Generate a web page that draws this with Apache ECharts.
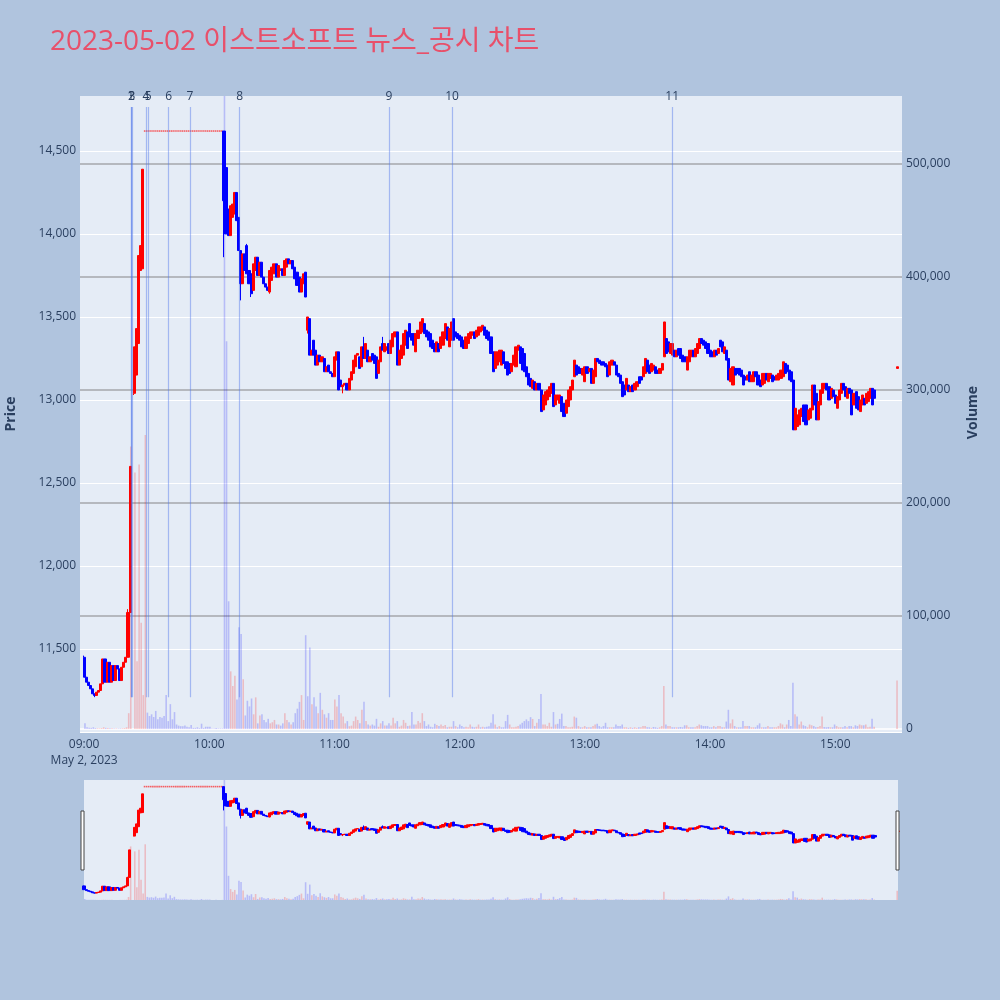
<!DOCTYPE html>
<html><head><meta charset="utf-8">
<script src="https://cdn.jsdelivr.net/npm/echarts@6/dist/echarts.min.js"></script>
<style>html,body{margin:0;padding:0;background:#b0c4de;}#c{width:1000px;height:1000px;}</style>
</head><body><div id="c"></div>
<script>
// ---- data (minute index from 09:00) ----
const opens = [
11450,11330,11300,11280,11260,11230,11220,11240,11250,11290,
11440,11300,11420,11300,11400,11310,11400,11380,11310,11390,
11420,11450,11720,null,13040,13150,13340,13780,13790,14620,
14620,14620,14620,14620,14620,14620,14620,14620,14620,14620,
14620,14620,14620,14620,14620,14620,14620,14620,14620,14620,
14620,14620,14620,14620,14620,14620,14620,14620,14620,14620,
14620,14620,14620,14620,14620,14620,14620,14620,14400,14150,
13990,14100,14120,14250,14100,13900,13700,13880,13930,13780,
13760,13660,13780,13860,13750,13830,13740,13700,13680,13650,
13720,13760,13820,13740,13780,13790,13750,13800,13850,13820,
13840,13800,13770,13740,13650,13700,13770,13420,13490,13270,
13360,13300,13210,13270,13230,13250,13170,13210,13170,13160,
13140,13240,13290,13120,13080,13090,13100,13060,13120,13160,
13200,13270,13260,13200,13320,13250,13300,13230,13280,13270,
13260,13160,13230,13340,13290,13300,13340,13280,13320,13380,
13410,13210,13250,13270,13330,13410,13460,13400,13400,13290,
13370,13400,13410,13460,13420,13410,13400,13360,13340,13290,
13340,13310,13330,13370,13440,13320,13360,13490,13410,13400,
13390,13380,13360,13310,13340,13370,13390,13410,13380,13390,
13410,13420,13440,13420,13410,13380,13290,13190,13210,13230,
13210,13290,13230,13230,13220,13170,13210,13200,13300,13320,
13310,13280,13200,13160,13130,13070,13110,13060,13100,13060,
12940,12970,13000,13020,13040,13100,12970,13000,12980,13020,
12980,12920,12960,13000,13060,13140,13210,13200,13190,13150,
13110,13200,13170,13190,13100,13140,13250,13240,13230,13230,
13220,13210,13150,13210,13230,13210,13160,13150,13110,13090,
13060,13090,13050,13090,13060,13080,13140,13140,13140,13160,
13240,13210,13170,13180,13200,13180,13160,13180,13260,13370,
13350,13280,13270,13300,13260,13310,13310,13270,13260,13180,
13230,13260,13300,13260,13280,13310,13370,13360,13350,13340,
13300,13290,13260,13300,13280,13360,13350,13280,13300,13250,
13110,13090,13190,13190,13190,13180,13150,13140,13120,13170,
13110,13110,13170,13150,13120,13090,13100,13160,13110,13130,
13150,13140,13120,13120,13130,13140,13220,13210,13180,13170,
13120,12820,12840,12850,12900,12970,12970,12880,12890,12940,
13090,13040,12880,12970,13040,13070,13100,13080,13010,13060,
13030,12950,13000,13040,13100,13080,13010,13070,13060,12970,
13050,13020,12930,12970,13010,12980,12990,13010,13070,13060
];
const closes = [
11330,11300,11280,11260,11230,11220,11240,11250,11290,11440,
11300,11420,11300,11400,11310,11400,11380,11310,11390,11420,
11450,11720,12600,null,13320,13430,13870,13930,14390,14620,
14620,14620,14620,14620,14620,14620,14620,14620,14620,14620,
14620,14620,14620,14620,14620,14620,14620,14620,14620,14620,
14620,14620,14620,14620,14620,14620,14620,14620,14620,14620,
14620,14620,14620,14620,14620,14620,14620,14200,14000,13990,
14170,14180,14250,14080,13900,13700,13880,13780,13760,13700,
13640,13820,13860,13750,13830,13740,13700,13680,13660,13780,
13800,13820,13740,13810,13790,13750,13840,13850,13820,13840,
13790,13730,13690,13650,13730,13760,13620,13500,13270,13300,
13270,13210,13270,13230,13260,13170,13200,13170,13160,13140,
13260,13290,13060,13080,13090,13100,13060,13130,13170,13240,
13270,13280,13190,13320,13250,13340,13230,13260,13240,13220,
13130,13240,13320,13300,13340,13320,13280,13360,13400,13410,
13210,13300,13330,13400,13420,13310,13380,13360,13330,13400,
13420,13470,13490,13400,13380,13360,13320,13310,13290,13350,
13290,13380,13410,13460,13360,13430,13470,13360,13380,13370,
13360,13320,13310,13380,13400,13410,13410,13370,13420,13440,
13440,13450,13390,13370,13360,13280,13170,13290,13290,13300,
13300,13220,13190,13150,13160,13220,13270,13320,13330,13220,
13180,13170,13140,13090,13080,13120,13060,13100,13060,12930,
13030,13050,13060,13080,13100,12960,13030,13030,13030,12930,
12900,13000,13060,13080,13120,13240,13150,13160,13160,13190,
13200,13160,13190,13100,13180,13250,13230,13220,13210,13210,
13200,13140,13230,13240,13210,13150,13140,13100,13020,13030,
13130,13050,13080,13050,13100,13110,13100,13120,13200,13250,
13170,13160,13220,13210,13160,13160,13190,13220,13470,13280,
13290,13340,13340,13260,13300,13270,13250,13230,13230,13260,
13300,13300,13260,13310,13340,13370,13340,13330,13310,13280,
13260,13260,13300,13270,13310,13320,13290,13320,13240,13120,
13190,13200,13150,13160,13150,13140,13090,13120,13150,13110,
13150,13170,13140,13090,13080,13160,13160,13120,13160,13160,
13110,13120,13150,13160,13180,13230,13160,13170,13120,13110,
12820,12950,12910,12940,12950,12870,12850,12940,12950,13090,
12970,12880,12990,13060,13100,13100,13060,13000,13070,13020,
12980,13020,13060,13100,13060,13020,13070,13040,12910,13040,
12950,12940,13000,13030,12970,13040,13050,13070,12970,13010
];
const volumes = [
5000,1500,1200,1000,1500,800,600,500,800,1500,
1000,800,700,600,500,500,400,500,600,800,
1500,14000,250000,null,227000,60000,234000,94000,30000,260000,
14500,11500,13000,10600,16000,8600,10600,10000,11500,30000,
7000,22000,8600,15000,4000,3000,2500,2500,3000,2000,
1500,3500,1000,1000,1500,800,4700,1000,2000,2000,
2000,500,500,800,500,500,500,600000,343000,113000,
51000,38000,47000,26000,90000,84000,44000,12000,25000,20000,
27000,13000,28000,5000,12000,13000,8000,6000,9000,5000,
6000,8000,4000,4000,3000,5000,14000,8000,6000,4000,
6000,14000,18000,24000,30000,8000,83000,29000,72000,22000,
28000,20000,14000,32000,17000,13000,10000,14000,8000,8000,
26000,20000,30000,14000,11000,5000,7000,2500,3000,7000,
11000,8000,5000,17000,24000,7000,4000,3000,4000,3000,
9000,2000,5000,7000,3000,3000,5000,3000,10000,5000,
7000,2000,3000,8000,5500,2600,3000,15000,4000,4000,
7000,5500,14000,7000,2600,4000,2000,1500,4600,3500,
2600,4000,2600,3500,1500,2000,2000,7000,2600,1500,
4000,2600,1500,2000,1500,4000,2000,1500,2000,4000,
1500,2000,1500,2000,2500,5500,13000,4000,1500,2600,
1500,1500,7000,12500,4000,1500,1500,2000,2600,4000,
5500,7000,8500,7000,10500,8900,2600,5500,8900,31000,
4000,4000,2600,5500,2000,15000,4000,4600,8900,13600,
2600,2600,1500,1500,2000,11000,10000,2600,1500,1500,
2600,1500,1500,1500,2600,4000,4600,2600,1500,2600,
5500,1500,1500,1500,1500,4000,2600,2600,4000,1500,
1500,1000,1500,1000,1500,1000,1500,1500,2600,2600,
1500,1500,1000,1800,1500,1000,1500,2600,38000,4000,
2600,2600,1500,1500,1500,1500,1800,1500,3300,3300,
1500,1500,1500,1500,2600,4000,3300,2600,2600,2600,
1500,1500,2600,1500,2600,2600,1500,1500,6600,17000,
5000,8500,2600,1500,1500,1500,7000,2600,2600,2600,
1500,1500,1500,3300,5000,1500,1500,1500,2600,1500,
1500,1500,1500,2600,5000,4000,1500,4000,8000,2600,
41000,13000,11000,4000,6600,3300,2600,1500,4000,3300,
2600,1500,1800,2600,11000,1800,1500,1800,1500,1500,
4000,2600,1500,1500,1500,2600,1500,2600,2600,1500,
3300,2600,4000,3300,3300,4000,1500,2000,9000,2000
];
// wicks beyond the candle body (minute index -> price)
const wickLows = {5:11210, 24:13030, 67:13860, 75:13600, 80:13620, 89:13640, 107:13400, 124:13040};
const wickHighs = {0:11460, 21:11740, 78:13940, 134:13380, 143:13380};
// closing auction
const auctionMinute = 390, auctionOpen = 13190, auctionClose = 13200, auctionVolume = 43000;
// news / disclosure markers
const newsTimes = ['09:22:20','09:22:40','09:22:55','09:29:35','09:30:40','09:40:30','09:50:40','10:14:30','11:26:05','11:56:20','13:41:50'];
const newsLabels = ['1','2','3','4','5','6','7','8','9','10','11'];
const priceTicks = [11500,12000,12500,13000,13500,14000,14500];
const volumeTicks = [0,100000,200000,300000,400000,500000];
const chartTitle = '2023-05-02 이스트소프트 뉴스_공시 차트';

// ---- build ----
const base = new Date(2023,4,2,9,0,0).getTime();
const T = m => base + m*60000;
const hms = s => { const p = s.split(':').map(Number); return new Date(2023,4,2,p[0],p[1],p[2]||0).getTime(); };
const RED='#ff0000', BLUE='#0000ff', RED_V='rgba(255,0,0,0.2)', BLUE_V='rgba(0,0,255,0.2)';
const candles=[], flatPoints=[], vols=[];
let prev=null;
function addCandle(m,o,c,v){
  const l = (wickLows[m]!=null)?wickLows[m]:Math.min(o,c);
  const h = (wickHighs[m]!=null)?wickHighs[m]:Math.max(o,c);
  if (o===c && l===h) flatPoints.push([T(m),c]); else candles.push([T(m),o,c,l,h]);
  const up = prev!=null && c>prev;
  vols.push({value:[T(m),v], itemStyle:{color: up?RED_V:BLUE_V}});
  prev=c;
}
for(let i=0;i<closes.length;i++){ if(closes[i]==null) continue; addCandle(i,opens[i],closes[i],volumes[i]); }
addCandle(auctionMinute,auctionOpen,auctionClose,auctionVolume);

const FONT="'Open Sans', 'Noto Sans', sans-serif";
const TXT='#2a3f5f';
const GRAY='rgba(120,120,120,0.6)';
const chart = echarts.init(document.getElementById('c'));
const newsLines = newsTimes.map((s,i)=>[{name:newsLabels[i], coord:[hms(s),11210]},{coord:[hms(s),14765]}]);
const candleStyle = {color:RED,color0:BLUE,borderColor:RED,borderColor0:BLUE,borderWidth:1};
const flatSeries = (xi,yi)=>({type:'scatter',xAxisIndex:xi,yAxisIndex:yi,data:flatPoints,symbol:'rect',symbolSize:[1.6,1.6],z:2,silent:true,
  itemStyle:{color:'rgba(255,0,0,0.75)'}});

chart.setOption({
  animation:false,
  backgroundColor:'#b0c4de',
  title:{text:chartTitle,left:50,top:28,padding:0,textStyle:{color:'#e8506a',fontSize:28,fontWeight:'normal',fontFamily:"'Open Sans','Noto Sans CJK KR',sans-serif"}},
  grid:[
    {left:80,top:96,width:822,height:636,show:true,backgroundColor:'#e5ecf6',borderWidth:0,outerBoundsMode:'none',containLabel:false},
    {left:80,top:96,width:822,height:633,show:false,outerBoundsMode:'none',containLabel:false},
    {left:84,top:780,width:814,height:120,show:true,backgroundColor:'#e5ecf6',borderWidth:0,outerBoundsMode:'none',containLabel:false},
    {left:84,top:780,width:814,height:120,show:false,outerBoundsMode:'none',containLabel:false}
  ],
  xAxis:[
    {type:'time',gridIndex:0,min:T(-2),max:T(392),minInterval:3600000,maxInterval:3600000,
     axisLine:{show:false},axisTick:{show:false},splitLine:{show:false},
     axisLabel:{margin:5,color:TXT,fontSize:12,fontFamily:FONT,lineHeight:16,
       formatter:function(v){const d=new Date(v); if(d.getMinutes()!==0||d.getSeconds()!==0) return '';
         const s=String(d.getHours()).padStart(2,'0')+':00'; return d.getHours()===9? s+'\nMay 2, 2023': s;}}},
    {type:'time',gridIndex:1,min:T(-2),max:T(392),show:false},
    {type:'time',gridIndex:2,min:T(0),max:T(390),show:false},
    {type:'time',gridIndex:3,min:T(0),max:T(390),show:false}
  ],
  yAxis:[
    {type:'value',gridIndex:0,min:11000,max:14831,interval:500,position:'left',
     axisLine:{show:false},axisTick:{show:false},
     axisLabel:{margin:4,color:TXT,fontSize:12,fontFamily:FONT,formatter:v=>priceTicks.indexOf(v)>=0?v.toLocaleString('en-US'):''},
     splitLine:{lineStyle:{color:['#ffffff','#ffffff','#ffffff','#ffffff','#ffffff','#ffffff','#ffffff','#ffffff','rgba(0,0,0,0)'],width:1}},
     name:'Price',nameLocation:'middle',nameGap:62,nameTextStyle:{color:TXT,fontSize:14,fontWeight:'bold',fontFamily:FONT}},
    {type:'value',gridIndex:1,min:0,max:560000,interval:100000,position:'right',
     axisLine:{show:false},axisTick:{show:false},
     axisLabel:{margin:4,color:TXT,fontSize:12,fontFamily:FONT,formatter:v=>volumeTicks.indexOf(v)>=0?v.toLocaleString('en-US'):''},
     splitLine:{lineStyle:{color:['#ffffff',GRAY,GRAY,GRAY,GRAY,GRAY,'rgba(0,0,0,0)'],width:1.5}},
     name:'Volume',nameLocation:'middle',nameRotate:90,nameGap:64,nameTextStyle:{color:TXT,fontSize:14,fontWeight:'bold',fontFamily:FONT}},
    {type:'value',gridIndex:2,min:11000,max:14831,show:false,splitLine:{show:false}},
    {type:'value',gridIndex:3,min:0,max:560000,show:false,splitLine:{show:false}}
  ],
  series:[
    {type:'bar',xAxisIndex:1,yAxisIndex:1,data:vols,barWidth:1.6,z:1},
    flatSeries(0,0),
    {type:'candlestick',xAxisIndex:0,yAxisIndex:0,data:candles,barWidth:2.6,z:2,itemStyle:candleStyle},
    {type:'line',xAxisIndex:0,yAxisIndex:0,data:[],z:3,
     markLine:{symbol:['none','none'],silent:true,animation:false,
       lineStyle:{color:'rgba(80,120,235,0.45)',width:1.2,type:'solid'},
       label:{show:true,position:'end',distance:4,formatter:'{b}',color:TXT,fontSize:12,fontFamily:FONT},
       data:newsLines}},
    {type:'bar',xAxisIndex:3,yAxisIndex:3,data:vols,barWidth:1.6,z:1},
    flatSeries(2,2),
    {type:'candlestick',xAxisIndex:2,yAxisIndex:2,data:candles,barWidth:2.6,z:2,itemStyle:candleStyle}
  ],
  graphic:[
    {type:'rect',shape:{x:81,y:811,width:3,height:59},style:{fill:'#ffffff',stroke:'#444444',lineWidth:1},z:10},
    {type:'rect',shape:{x:896,y:811,width:3,height:59},style:{fill:'#ffffff',stroke:'#444444',lineWidth:1},z:10}
  ]
});
</script></body></html>
